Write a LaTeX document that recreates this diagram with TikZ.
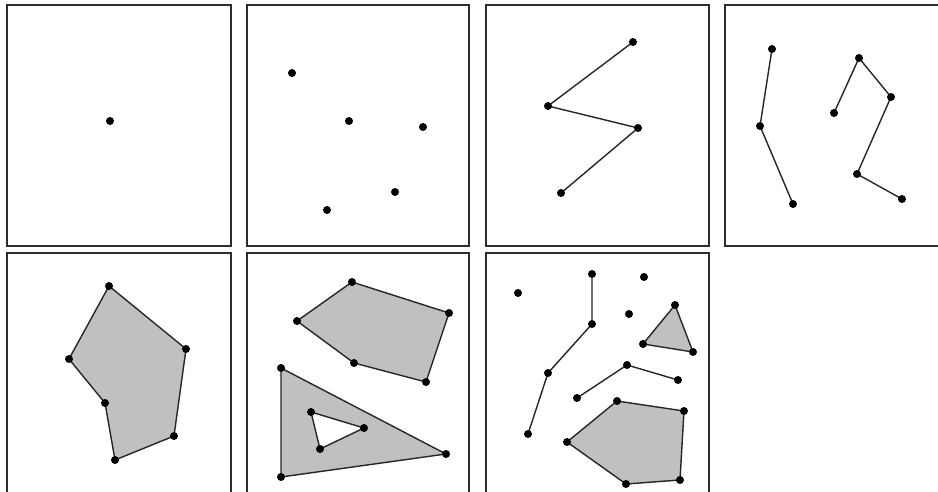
\documentclass[tikz,border=0pt]{standalone}
\usetikzlibrary{backgrounds}
\definecolor{framegray}{RGB}{45,45,45}
\definecolor{areagray}{RGB}{192,192,192}
\tikzset{
  panel/.style={draw=framegray, line width=1.3pt},
  link/.style={draw=black!85, line width=1.4pt},
  area/.style={fill=areagray, draw=black!85, line width=1.4pt, even odd rule},
  dot/.style={circle, fill=black, inner sep=0pt, minimum size=8pt},
}

\begin{document}
\begin{tikzpicture}[x=1pt, y=-1pt]
  \useasboundingbox (0,0) rectangle (938,492);

  % the seven frames (last column and bottom row are cut off)
  \begin{scope}
    \clip (0,0) rectangle (938,492);
    \foreach \xa/\xb in {7/231, 247/469, 486/709, 725/960}
      \draw[panel] (\xa,5) rectangle (\xb,246);
    \foreach \xa/\xb in {7/231, 247/469, 486/709}
      \draw[panel] (\xa,253) rectangle (\xb,520);
  \end{scope}

  % panel 1: a single point
  \node[dot] (a1) at (110,121) {};

  % panel 2: scattered points
  \node[dot] (b1) at (292,73) {};
  \node[dot] (b2) at (349,121) {};
  \node[dot] (b3) at (423,127) {};
  \node[dot] (b4) at (395,192) {};
  \node[dot] (b5) at (327,210) {};

  % panel 3: one polyline
  \node[dot] (c1) at (633,42) {};
  \node[dot] (c2) at (548,106) {};
  \node[dot] (c3) at (638,128) {};
  \node[dot] (c4) at (561,193) {};

  % panel 4: two polylines
  \node[dot] (d1) at (772,49) {};
  \node[dot] (d2) at (760,126) {};
  \node[dot] (d3) at (793,204) {};
  \node[dot] (d4) at (834,113) {};
  \node[dot] (d5) at (859,58) {};
  \node[dot] (d6) at (891,97) {};
  \node[dot] (d7) at (857,174) {};
  \node[dot] (d8) at (902,199) {};

  % panel 5: one polygon
  \node[dot] (e1) at (109,286) {};
  \node[dot] (e2) at (186,349) {};
  \node[dot] (e3) at (174,436) {};
  \node[dot] (e4) at (115,460) {};
  \node[dot] (e5) at (105,403) {};
  \node[dot] (e6) at (69,359) {};

  % panel 6: two polygons, one with a hole
  \node[dot] (f1) at (352,282) {};
  \node[dot] (f2) at (449,313) {};
  \node[dot] (f3) at (426,382) {};
  \node[dot] (f4) at (354,363) {};
  \node[dot] (f5) at (297,321) {};
  \node[dot] (g1) at (281,368) {};
  \node[dot] (g2) at (446,454) {};
  \node[dot] (g3) at (281,477) {};
  \node[dot] (h1) at (311,412) {};
  \node[dot] (h2) at (364,428) {};
  \node[dot] (h3) at (320,449) {};

  % panel 7: everything mixed
  \node[dot] (k1) at (518,293) {};
  \node[dot] (k2) at (644,277) {};
  \node[dot] (k3) at (629,314) {};
  \node[dot] (m1) at (592,274) {};
  \node[dot] (m2) at (592,324) {};
  \node[dot] (m3) at (548,373) {};
  \node[dot] (m4) at (528,434) {};
  \node[dot] (n1) at (675,305) {};
  \node[dot] (n2) at (693,352) {};
  \node[dot] (n3) at (643,344) {};
  \node[dot] (q1) at (577,398) {};
  \node[dot] (q2) at (627,365) {};
  \node[dot] (q3) at (678,380) {};
  \node[dot] (r1) at (617,401) {};
  \node[dot] (r2) at (684,411) {};
  \node[dot] (r3) at (680,480) {};
  \node[dot] (r4) at (626,484) {};
  \node[dot] (r5) at (567,442) {};

  \begin{scope}[on background layer]
    \draw[link] (c1.center) -- (c2.center) -- (c3.center) -- (c4.center);
    \draw[link] (d1.center) -- (d2.center) -- (d3.center);
    \draw[link] (d4.center) -- (d5.center) -- (d6.center) -- (d7.center) -- (d8.center);
    \draw[area] (e1.center) -- (e2.center) -- (e3.center) -- (e4.center)
      -- (e5.center) -- (e6.center) -- cycle;
    \draw[area] (f1.center) -- (f2.center) -- (f3.center) -- (f4.center)
      -- (f5.center) -- cycle;
    \draw[area] (g1.center) -- (g2.center) -- (g3.center) -- cycle
      (h1.center) -- (h2.center) -- (h3.center) -- cycle;
    \draw[link] (m1.center) -- (m2.center) -- (m3.center) -- (m4.center);
    \draw[area] (n1.center) -- (n2.center) -- (n3.center) -- cycle;
    \draw[link] (q1.center) -- (q2.center) -- (q3.center);
    \draw[area] (r1.center) -- (r2.center) -- (r3.center) -- (r4.center)
      -- (r5.center) -- cycle;
  \end{scope}
\end{tikzpicture}
\end{document}
